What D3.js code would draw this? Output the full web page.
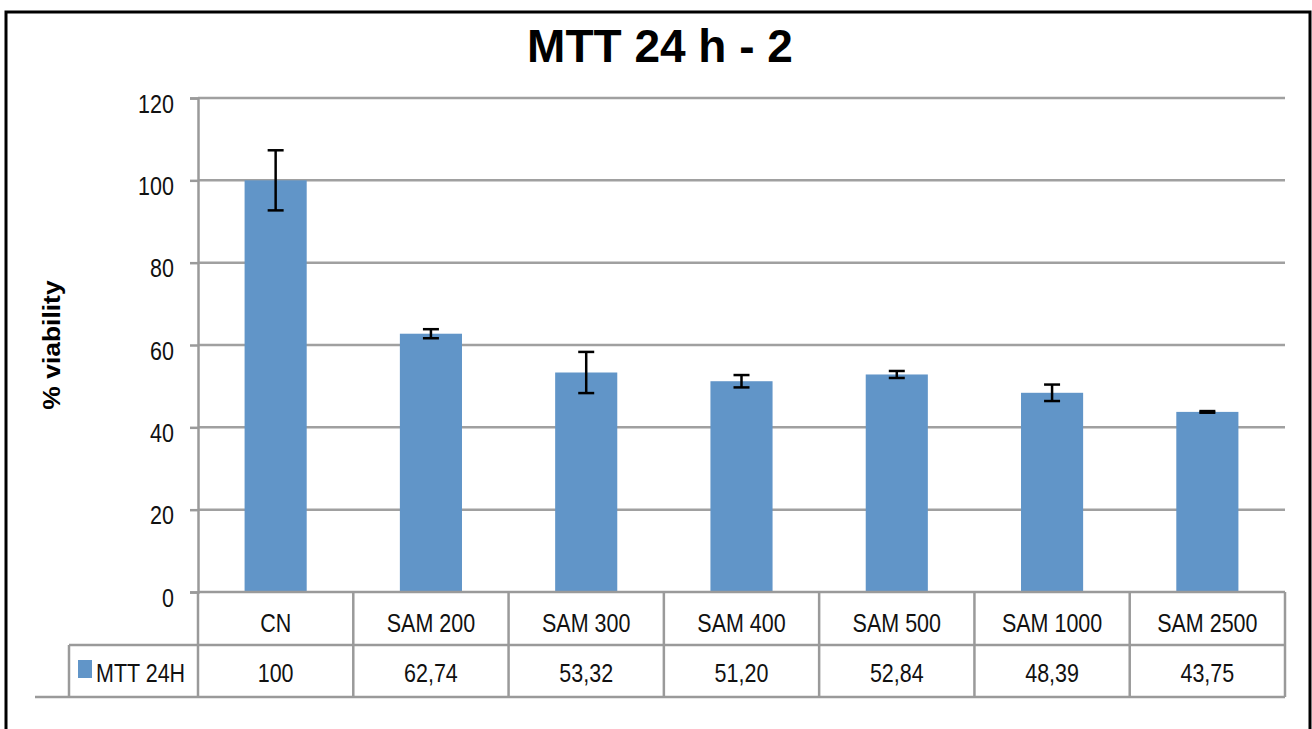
<!DOCTYPE html>
<html>
<head>
<meta charset="utf-8">
<script src="https://cdn.jsdelivr.net/npm/d3@7"></script>
<style>
  body { margin: 0; background: #fff; }
  text { font-family: "Liberation Sans", Arial, sans-serif; fill: #111; }
  .grid line { stroke: #a0a0a0; stroke-width: 2.5; }
  .table line { stroke: #9a9a9a; stroke-width: 2.5; }
</style>
</head>
<body>
<div id="chart"></div>
<script>
// data
var categories = ["CN", "SAM 200", "SAM 300", "SAM 400", "SAM 500", "SAM 1000", "SAM 2500"];
var values = [100, 62.74, 53.32, 51.20, 52.84, 48.39, 43.75];
var errors = [7.3, 1.1, 5.0, 1.5, 0.85, 2.0, 0.2];
var yTicks = [0, 20, 40, 60, 80, 100, 120];
var seriesName = "MTT 24H";
var title = "MTT 24 h - 2";

var width = 1312, height = 729;
var plotLeft = 198, plotRight = 1285, plotTop = 98, plotBottom = 592;
var row1 = 645, row2 = 697;
var sx = 0.86; // narrow the sans text a bit

var svg = d3.select("#chart").append("svg")
  .attr("width", width)
  .attr("height", height);

// outer frame (bottom edge is cut off in the reference)
svg.append("path")
  .attr("d", "M6,729 V12 H1310 V729")
  .attr("fill", "none")
  .attr("stroke", "#000")
  .attr("stroke-width", 3);

svg.append("text")
  .attr("x", 660)
  .attr("y", 62)
  .attr("text-anchor", "middle")
  .style("font-size", "46px")
  .style("font-weight", "bold")
  .style("fill", "#000")
  .text(title);

var x = d3.scaleBand().domain(categories).range([plotLeft, plotRight]);
var y = d3.scaleLinear().domain([0, 120]).range([plotBottom, plotTop]);

// gridlines
svg.append("g")
  .attr("class", "grid")
  .selectAll("line")
  .data(yTicks.filter(function(d) { return d > 0; }))
  .enter().append("line")
  .attr("x1", plotLeft).attr("x2", plotRight)
  .attr("y1", function(d) { return y(d); })
  .attr("y2", function(d) { return y(d); });

// y axis
var yAxis = svg.append("g")
  .attr("transform", "translate(" + plotLeft + ",0)")
  .call(d3.axisLeft(y).tickValues(yTicks).tickSize(8).tickPadding(20));
yAxis.select(".domain").attr("stroke", "#9a9a9a").attr("stroke-width", 2.5);
yAxis.selectAll(".tick line").attr("stroke", "#9a9a9a").attr("stroke-width", 2.5);
yAxis.selectAll(".tick text")
  .attr("dy", 14)
  .attr("transform", "scale(" + sx + ",1)")
  .style("font-size", "25px")
  .style("font-family", "'Liberation Sans', Arial, sans-serif")
  .attr("fill", "#111");

svg.append("text")
  .attr("transform", "translate(60,345) rotate(-90) scale(1.15,1)")
  .attr("text-anchor", "middle")
  .style("font-size", "23px")
  .style("font-weight", "bold")
  .style("fill", "#000")
  .text("% viability");

// bars
var barW = x.bandwidth() * 0.4;
svg.append("g")
  .selectAll("rect")
  .data(values)
  .enter().append("rect")
  .attr("x", function(d, i) { return x(categories[i]) + x.bandwidth() / 2 - barW / 2; })
  .attr("y", function(d) { return y(d); })
  .attr("width", barW)
  .attr("height", function(d) { return y(0) - y(d); })
  .attr("fill", "#6195c8");

// error bars
var err = svg.append("g")
  .attr("stroke", "#000")
  .attr("stroke-width", 2.5)
  .selectAll("g")
  .data(values)
  .enter().append("g");
err.append("line")
  .attr("x1", function(d, i) { return x(categories[i]) + x.bandwidth() / 2; })
  .attr("x2", function(d, i) { return x(categories[i]) + x.bandwidth() / 2; })
  .attr("y1", function(d, i) { return y(d + errors[i]); })
  .attr("y2", function(d, i) { return y(d - errors[i]); });
[1, -1].forEach(function(s) {
  err.append("line")
    .attr("x1", function(d, i) { return x(categories[i]) + x.bandwidth() / 2 - 8; })
    .attr("x2", function(d, i) { return x(categories[i]) + x.bandwidth() / 2 + 8; })
    .attr("y1", function(d, i) { return y(d + s * errors[i]); })
    .attr("y2", function(d, i) { return y(d + s * errors[i]); });
});

// data table under the plot
var table = svg.append("g").attr("class", "table");
table.append("line").attr("x1", plotLeft).attr("x2", plotRight).attr("y1", plotBottom).attr("y2", plotBottom);
table.append("line").attr("x1", 69).attr("x2", plotRight).attr("y1", row1).attr("y2", row1);
table.append("line").attr("x1", 35).attr("x2", plotRight).attr("y1", row2).attr("y2", row2);
table.append("line").attr("x1", 69).attr("x2", 69).attr("y1", row1).attr("y2", row2);
table.selectAll("line.col")
  .data(categories.concat(["end"]))
  .enter().append("line")
  .attr("class", "col")
  .attr("x1", function(d) { return d === "end" ? plotRight : x(d); })
  .attr("x2", function(d) { return d === "end" ? plotRight : x(d); })
  .attr("y1", plotBottom)
  .attr("y2", row2);

function valueLabel(v) {
  return Number.isInteger(v) ? String(v) : d3.format(".2f")(v).replace(".", ",");
}

svg.append("g")
  .selectAll("text")
  .data(categories)
  .enter().append("text")
  .attr("transform", function(d) { return "translate(" + (x(d) + x.bandwidth() / 2) + "," + 632 + ") scale(" + sx + ",1)"; })
  .attr("text-anchor", "middle")
  .style("font-size", "25px")
  .text(function(d) { return d; });

svg.append("g")
  .selectAll("text")
  .data(values)
  .enter().append("text")
  .attr("transform", function(d, i) { return "translate(" + (x(categories[i]) + x.bandwidth() / 2) + "," + 682 + ") scale(" + sx + ",1)"; })
  .attr("text-anchor", "middle")
  .style("font-size", "25px")
  .text(valueLabel);

svg.append("rect")
  .attr("x", 78).attr("y", 660)
  .attr("width", 14).attr("height", 18)
  .attr("fill", "#6195c8");
svg.append("text")
  .attr("transform", "translate(96,682) scale(" + sx + ",1)")
  .style("font-size", "25px")
  .text(seriesName);
</script>
</body>
</html>
